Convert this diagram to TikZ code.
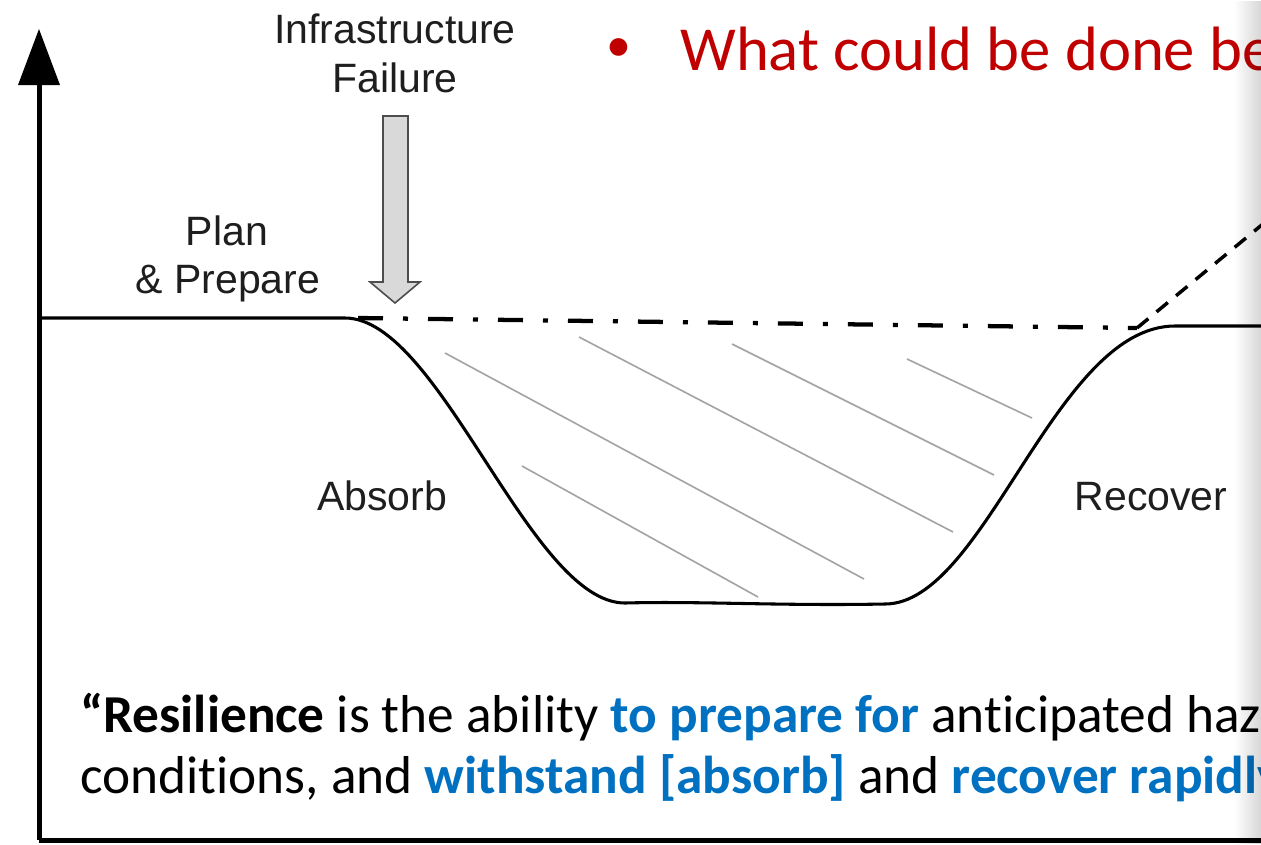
\documentclass[tikz,border=0pt]{standalone}
\usepackage{fontspec}
\setmainfont{Carlito}[Ligatures=NoCommon]
\newfontfamily\labelfont{Liberation Sans}
\usetikzlibrary{fadings}
\definecolor{slidered}{HTML}{C00000}
\definecolor{slideblue}{HTML}{0070C0}
\definecolor{labelgray}{HTML}{1E1E1E}
\definecolor{hatchgray}{HTML}{A3A3A3}
\definecolor{arrowfill}{HTML}{D9D9D9}
\definecolor{arrowedge}{HTML}{4D4D4D}
\tikzfading[name=edgefade, left color=transparent!100, right color=transparent!0]

\begin{document}
\begin{tikzpicture}[x=0.75pt, y=-0.75pt,
  lbl/.style={font=\labelfont\fontsize{30.75}{36}\selectfont, text=labelgray, inner sep=0pt, anchor=base},
  quotetext/.style={font=\fontsize{40}{48}\selectfont, text=black, inner sep=0pt, anchor=base west},
  bullettext/.style={font=\fontsize{47}{56}\selectfont, text=slidered, inner sep=0pt, anchor=base west},
  axisline/.style={line width=3.75pt, black},
  curveline/.style={line width=2.3pt, black, line join=round, line cap=round},
  hatchline/.style={line width=1.2pt, hatchgray},
  trendline/.style={line width=3.2pt, black, dash pattern=on 18.75pt off 15pt on 3.75pt off 15pt},
  growline/.style={line width=2.6pt, black, dash pattern=on 11pt off 8pt},
  failarrow/.style={fill=arrowfill, draw=arrowedge, line width=1.2pt, line join=miter}
]
\clip (0,0) rectangle (1261,844);
\fill[white] (0,0) rectangle (1261,844);

% key points of the performance curve
\coordinate (origin) at (39,840);
\coordinate (axistop) at (39,84);
\coordinate (hit) at (358,318);
\coordinate (back) at (1137,328);
\coordinate (dropstart) at (345,318);
\coordinate (floorL) at (625,603);
\coordinate (floorR) at (885,604);
\coordinate (levelR) at (1175,326);

% axes
\draw[axisline] (origin) -- (axistop);
\fill (39,29) -- (18,85) -- (60,85) -- cycle;
\draw[axisline] (origin) -- (1261,840);

% hatching of the lost performance
\draw[hatchline] (445,353) -- (864,579);
\draw[hatchline] (579,337) -- (953,532);
\draw[hatchline] (732,344) -- (994,475);
\draw[hatchline] (907,359) -- (1032,418);
\draw[hatchline] (522,466) -- (758,597);

% performance curve
\draw[curveline] (39,318) -- (dropstart)
  .. controls (440,318) and (530,603) .. (floorL)
  .. controls (700,601) and (780,606) .. (floorR)
  .. controls (985,604) and (1055,326) .. (levelR)
  -- (1261,326);

% expected level and improved recovery
\draw[trendline] (hit) -- (back);
\draw[growline] (back) -- (1275,214);

% infrastructure failure arrow
\draw[failarrow] (383,116) -- (408,116) -- (408,282) -- (420,282) -- (395,303)
  -- (370,282) -- (383,282) -- cycle;

% curve labels
\node[lbl] (infra) at (395,43) {Infrastructure};
\node[lbl] (failure) at (395,92) {Failure};
\node[lbl] (plan) at (227,245) {Plan};
\node[lbl] (prepare) at (228,293) {\& Prepare};
\node[lbl] (absorb) at (382,510) {Absorb};
\node[lbl] (recover) at (1151,510) {Recover};

% slide bullet
\node[bullettext, font=\fontsize{37.5}{44}\selectfont] (bullet) at (606,61) {•};
\node[bullettext] (question) at (680,70) {What could be done be};

% definition
\node[quotetext] (defA) at (80,732) {\textbf{“Resilience} is the ability \textcolor{slideblue}{\textbf{to prepare for}} anticipated haz};
\node[quotetext] (defB) at (80,793) {conditions, and \textcolor{slideblue}{\textbf{withstand [absorb]}} and \textcolor{slideblue}{\textbf{recover rapidly}}};

% soft shadow along the right edge
\fill[black, fill opacity=0.16, path fading=edgefade] (1234,0) rectangle (1261,844);
\end{tikzpicture}
\end{document}
